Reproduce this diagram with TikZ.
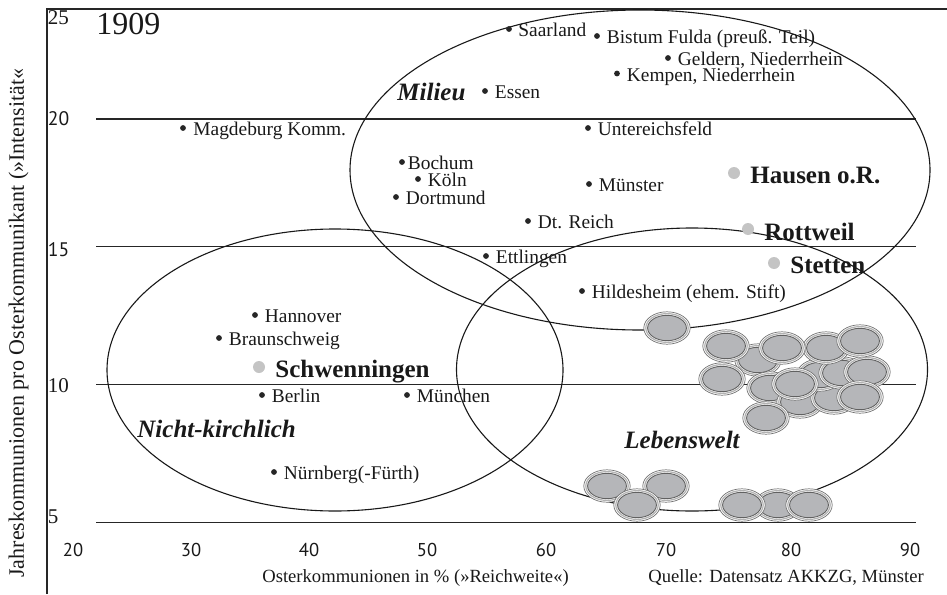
\documentclass[tikz,border=0pt]{standalone}
\usepackage{fontspec}
\setmainfont{Liberation Serif}
\newfontfamily\tickfont{PT Sans}
\definecolor{blobfill}{HTML}{B5B6B9}
\definecolor{gdotc}{HTML}{C4C4C4}
\newcommand{\grayblob}[1]{%
  \draw[blobout] (#1) ellipse [x radius=23.2, y radius=16.2];
  \draw[blobmid] (#1) ellipse [x radius=21.2, y radius=14.4];
  \draw[blobin] (#1) ellipse [x radius=19.4, y radius=12.7];}
\begin{document}
\begin{tikzpicture}[x=0.5pt,y=-0.5pt,
  axisline/.style={line width=0.6pt, draw=black!85},
  gridline/.style={line width=0.6pt, draw=black!85},
  region/.style={line width=0.55pt, draw=black!90},
  pdot/.style={circle, fill=black!85, inner sep=0pt, minimum size=2.9pt},
  gdot/.style={circle, fill=gdotc, inner sep=0pt, minimum size=6pt},
  plabel/.style={anchor=base west, inner sep=0pt, font=\fontsize{9.7}{11}\selectfont, text=black!90},
  glabel/.style={anchor=base west, inner sep=0pt, font=\fontsize{12.5}{14}\selectfont\bfseries, text=black!90},
  rlabel/.style={anchor=base west, inner sep=0pt, font=\fontsize{12.5}{14}\selectfont\bfseries\itshape, text=black!90},
  ticklabel/.style={anchor=base, inner sep=0pt, font=\tickfont\fontsize{9.3}{10}\selectfont, text=black!90},
  yticklabel/.style={anchor=base west, inner sep=0pt, font=\tickfont\fontsize{9.8}{10}\selectfont, text=black!90},
  titlelabel/.style={anchor=base west, inner sep=0pt, font=\fontsize{9.3}{11}\selectfont, text=black!90},
  blobout/.style={fill=white, draw=black!55, line width=0.35pt},
  blobmid/.style={draw=black!30, line width=0.6pt},
  blobin/.style={fill=blobfill, draw=black!62, line width=0.45pt}
]
\useasboundingbox (0,0) rectangle (947,594);

% axes
\draw[axisline] (47,594) -- (47,9) -- (947,9);
\foreach \yy in {119,246.7,384.3,522.3}
  \draw[gridline] (96,\yy) -- (916,\yy);

% y tick labels
\node[yticklabel, font=\fontsize{10.5}{11}\selectfont] (y25) at (47.5,25) {25};
\node[yticklabel] (y20) at (47.5,125) {20};
\node[yticklabel] (y15) at (47.5,256) {15};
\node[yticklabel, font=\fontsize{10.5}{11}\selectfont] (y10) at (47.5,392) {10};
\node[yticklabel, font=\fontsize{10.5}{11}\selectfont] (y5) at (47.5,523) {5};

% x tick labels
\node[ticklabel] (x20) at (73,556) {20};
\node[ticklabel] (x30) at (191,556) {30};
\node[ticklabel] (x40) at (309,556) {40};
\node[ticklabel] (x50) at (427,556) {50};
\node[ticklabel] (x60) at (546,556) {60};
\node[ticklabel] (x70) at (666,556) {70};
\node[ticklabel] (x80) at (791,556) {80};
\node[ticklabel] (x90) at (910,556) {90};

% titles
\node[titlelabel] (xtitle) at (262,582) {Osterkommunionen in \% (»Reichweite«)};
\node[titlelabel] (source) at (648,582) {Quelle: Datensatz AKKZG, Münster};
\node[anchor=base west, inner sep=0pt, rotate=90, font=\fontsize{11}{12}\selectfont, text=black!90] (ytitle) at (24,578) {Jahreskommunionen pro Osterkommunikant (»Intensität«};
\node[anchor=base west, inner sep=0pt, font=\fontsize{16}{18}\selectfont, text=black!90] (year) at (96,34) {1909};

% region ellipses
\draw[region] (640,170) ellipse [x radius=290, y radius=160];
\draw[region] (335,370) ellipse [x radius=228, y radius=141];
\draw[region] (692,369.5) ellipse [x radius=235.5, y radius=141.5];

% region labels
\node[rlabel] (milieu) at (397,100) {Milieu};
\node[rlabel] (nicht) at (137,437) {Nicht-kirchlich};
\node[rlabel] (leben) at (624,448) {Lebenswelt};

% gray blobs
\grayblob{667,328}
\grayblob{758,360}
\grayblob{770,388}
\grayblob{800,402}
\grayblob{834,398}
\grayblob{820,375}
\grayblob{842,373}
\grayblob{867,372}
\grayblob{826,348}
\grayblob{726,346}
\grayblob{782,348}
\grayblob{860,341}
\grayblob{722,379}
\grayblob{795,384}
\grayblob{860,397}
\grayblob{766,418}
\grayblob{607,486}
\grayblob{666,486}
\grayblob{637,505}
\grayblob{778,505}
\grayblob{742,505}
\grayblob{809,505}

% black data points
\node[pdot] (saar) at (509,29) {};
\node[plabel] (saarl) at (518,36.5) {Saarland};
\node[pdot] (fulda) at (597,36) {};
\node[plabel] (fuldal) at (606.5,43.5) {Bistum Fulda (preuß. Teil)};
\node[pdot] (geld) at (668,58) {};
\node[plabel] (geldl) at (677.5,65.5) {Geldern, Niederrhein};
\node[pdot] (kemp) at (617,73.5) {};
\node[plabel] (kempl) at (626.5,81) {Kempen, Niederrhein};
\node[pdot] (essen) at (485,91) {};
\node[plabel] (essenl) at (494.5,98.5) {Essen};
\node[pdot] (unter) at (588,128) {};
\node[plabel] (unterl) at (597.5,135.5) {Untereichsfeld};
\node[pdot] (magd) at (183,128) {};
\node[plabel] (magdl) at (193,135.5) {Magdeburg Komm.};
\node[pdot] (boch) at (402,162) {};
\node[plabel] (bochl) at (407.5,169.5) {Bochum};
\node[pdot] (koeln) at (418,179) {};
\node[plabel] (koelnl) at (427.5,186.5) {Köln};
\node[pdot] (dort) at (396,197) {};
\node[plabel] (dortl) at (405.5,204.5) {Dortmund};
\node[pdot] (muen) at (589,184) {};
\node[plabel] (muenl) at (598.5,191.5) {Münster};
\node[pdot] (reich) at (528,221) {};
\node[plabel] (reichl) at (537.5,228.5) {Dt. Reich};
\node[pdot] (ettl) at (486,256) {};
\node[plabel] (ettll) at (495.5,263.5) {Ettlingen};
\node[pdot] (hild) at (582,291) {};
\node[plabel] (hildl) at (591.5,298.5) {Hildesheim (ehem. Stift)};
\node[pdot] (hann) at (255,315) {};
\node[plabel] (hannl) at (264.5,322.5) {Hannover};
\node[pdot] (brau) at (219,338) {};
\node[plabel] (braul) at (228.5,345.5) {Braunschweig};
\node[pdot] (berl) at (262,395) {};
\node[plabel] (berll) at (271.5,402.5) {Berlin};
\node[pdot] (mnch) at (407,395) {};
\node[plabel] (mnchl) at (416.5,402.5) {München};
\node[pdot] (nuer) at (274,472) {};
\node[plabel] (nuerl) at (283.5,479.5) {Nürnberg(-Fürth)};

% gray highlighted points
\node[gdot] (schw) at (259,367) {};
\node[glabel] (schwl) at (275,377) {Schwenningen};
\node[gdot] (haus) at (734,173) {};
\node[glabel] (hausl) at (750,183) {Hausen o.R.};
\node[gdot] (rott) at (748,229) {};
\node[glabel] (rottl) at (764,240) {Rottweil};
\node[gdot] (stet) at (774,263) {};
\node[glabel] (stetl) at (790,273) {Stetten};
\end{tikzpicture}
\end{document}
